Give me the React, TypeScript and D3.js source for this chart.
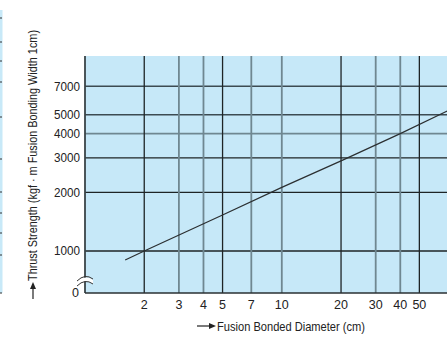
import React from 'react';
import * as d3 from 'd3';

// diameter (cm) vs thrust strength
const diameters = [1.6, 2, 5, 10, 20, 40, 70];
const strengths = [900, 1000, 1530, 2120, 2900, 4000, 5250];

const xTicks = [2, 3, 4, 5, 7, 10, 20, 30, 40, 50];
const xDark = [2, 5, 20, 50];
const yTicks = [1000, 2000, 3000, 4000, 5000, 7000];
const yDark = [1000, 2000, 3000];
const yMid = [5000, 7000];

// ticks of the neighbouring chart that is cut off on the left
const stripTicks = [18, 42, 61, 82, 117, 159, 192, 213, 233, 255, 293];

const W = 447;
const H = 339;
const left = 85;
const top = 56;
const bottom = 293;
const right = 460;

const font = "'Liberation Sans', Arial, sans-serif";

export default function App() {
  const x = d3.scaleLog().domain([1, 10]).range([left, 281.8]);
  const y = d3.scaleLog().domain([1000, 10000]).range([251, top]);

  const line = d3.line<number>()
    .x((d, i) => x(diameters[i]))
    .y(d => y(d));

  const gray = '#6f8791';
  const dark = '#1e2426';

  return (
    <svg width={W} height={H} style={{ position: 'absolute', left: 0, top: 0 }}>
      <defs>
        <clipPath id="plot">
          <rect x={left} y={top} width={right - left} height={bottom - top} />
        </clipPath>
      </defs>

      <rect x={0} y={10} width={2.5} height={bottom - 10} fill="#c8e9f8" />
      {stripTicks.map(t => (
        <line key={t} x1={0} x2={2} y1={t} y2={t} stroke="#333" strokeWidth={1} />
      ))}

      <rect x={left} y={top} width={right - left} height={bottom - top} fill="#c6e8f8" />

      <g clipPath="url(#plot)">
        {yTicks.map(t => (
          <line key={t} x1={left} x2={right} y1={y(t)} y2={y(t)}
            stroke={yDark.includes(t) ? dark : yMid.includes(t) ? '#3c4b52' : gray}
            strokeWidth={yDark.includes(t) ? 1.3 : 1.6} />
        ))}
        {xTicks.map(t => (
          <line key={t} x1={x(t)} x2={x(t)} y1={top} y2={bottom}
            stroke={xDark.includes(t) ? dark : gray}
            strokeWidth={xDark.includes(t) ? 1.3 : 1.8} />
        ))}
        <path d={line(strengths) ?? ''} fill="none" stroke="#2b2f31" strokeWidth={1.2} />
      </g>

      <line x1={left} x2={left} y1={top} y2={bottom} stroke="#3a4448" strokeWidth={1.8} />
      <line x1={left} x2={right} y1={bottom} y2={bottom} stroke="#2a3033" strokeWidth={1.5} />

      {/* axis break */}
      <path d="M77,283 Q85,274 93,280 L93,284 Q85,278 77,287 Z" fill="#fff" />
      <path d="M77,281 Q85,273 93,279" fill="none" stroke="#333" strokeWidth={1} />
      <path d="M77,286 Q85,278 93,284" fill="none" stroke="#333" strokeWidth={1} />

      <g fontFamily={font} fontSize={12} fill="#222">
        {yTicks.map(t => (
          <text key={t} x={80} y={y(t)} dy="0.35em" textAnchor="end"
            textLength={26} lengthAdjust="spacingAndGlyphs" fontSize={12.5}>{t}</text>
        ))}
        <text x={79} y={297} textAnchor="end" fontSize={12.5}>0</text>
        {xTicks.map(t => (
          <text key={t} x={x(t)} y={309} textAnchor="middle" fontSize={12.5}>{t}</text>
        ))}
        <text x={217} y={331} fontSize={13.5} textLength={148} lengthAdjust="spacingAndGlyphs">
          Fusion Bonded Diameter (cm)
        </text>
        <text transform="translate(37,281) rotate(-90)" fontSize={13.5} textLength={251} lengthAdjust="spacingAndGlyphs">
          Thrust Strength (kgf · m Fusion Bonding Width 1cm)
        </text>
      </g>

      {/* arrows */}
      <line x1={197} x2={211} y1={326} y2={326} stroke="#222" strokeWidth={1.2} />
      <path d="M216,326 L209,323 L209,329 Z" fill="#222" />
      <line x1={33} x2={33} y1={299} y2={287} stroke="#222" strokeWidth={1.2} />
      <path d="M33,282 L30,289 L36,289 Z" fill="#222" />
    </svg>
  );
}
